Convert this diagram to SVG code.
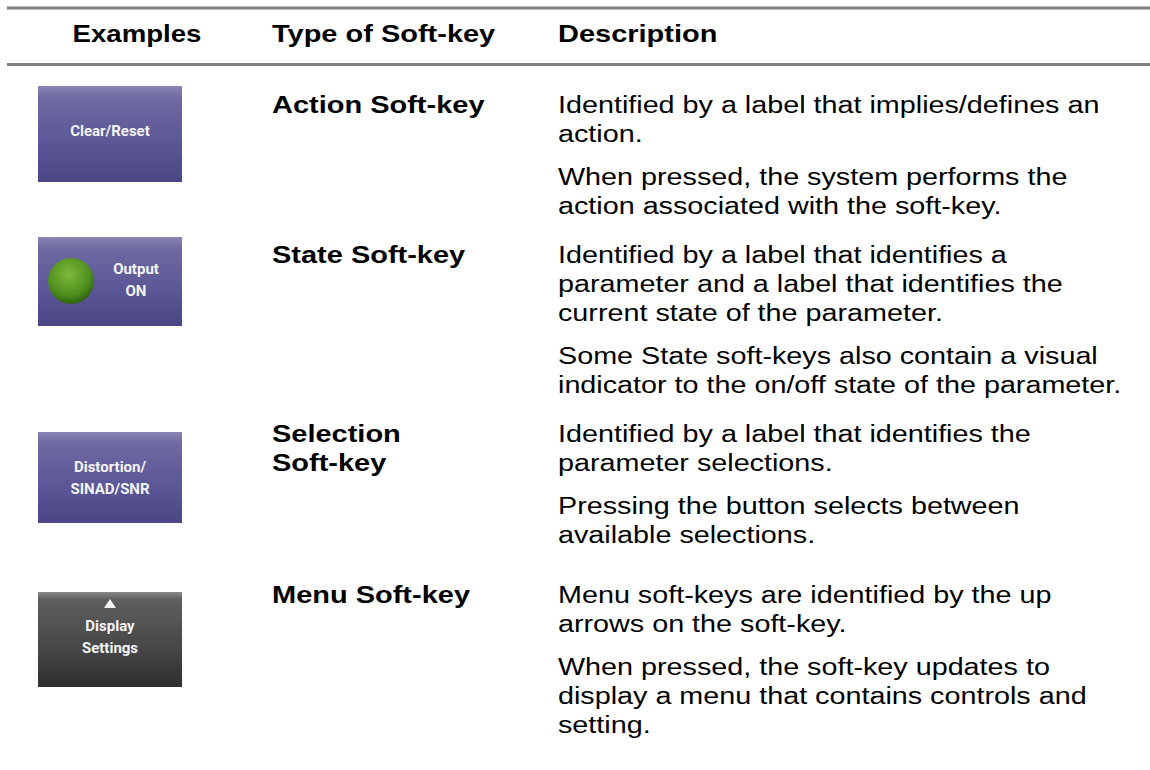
<svg xmlns="http://www.w3.org/2000/svg" width="1150" height="770" viewBox="0 0 1150 770">
<defs>
<linearGradient id="purple" x1="0" y1="0" x2="0" y2="1">
<stop offset="0" stop-color="#8a85b4"/>
<stop offset="0.12" stop-color="#6f6aa2"/>
<stop offset="0.6" stop-color="#5b5696"/>
<stop offset="1" stop-color="#4a4686"/>
</linearGradient>
<linearGradient id="gray" x1="0" y1="0" x2="0" y2="1">
<stop offset="0" stop-color="#8a8a8a"/>
<stop offset="0.08" stop-color="#5e5e5e"/>
<stop offset="0.6" stop-color="#474747"/>
<stop offset="1" stop-color="#2e2e2e"/>
</linearGradient>
<radialGradient id="green" cx="0.45" cy="0.35" r="0.65">
<stop offset="0" stop-color="#7dba3a"/>
<stop offset="0.7" stop-color="#4f8f1f"/>
<stop offset="1" stop-color="#2f6410"/>
</radialGradient>
<style>
.rule{stroke:#808080;stroke-width:3;fill:none}
.hd{font-family:"Liberation Sans",Arial,sans-serif;font-weight:bold;font-size:23px;fill:#000}
.tp{font-family:"Liberation Sans",Arial,sans-serif;font-weight:bold;font-size:23px;fill:#000}
.ds{font-family:"Liberation Sans",Arial,sans-serif;font-size:23px;fill:#000}
.bt{font-family:Roboto,"Liberation Sans",sans-serif;font-weight:bold;font-size:15px;fill:#f4f4f8;text-anchor:middle}
</style>
</defs>
<g id="rules">
<line class="rule" x1="7" y1="8" x2="1150" y2="8"/>
<line class="rule" x1="7" y1="64.5" x2="1150" y2="64.5"/>
</g>
<g id="header">
<text class="hd" transform="translate(137 0) scale(1.2 1)" x="0" y="42" text-anchor="middle">Examples</text>
<text class="hd" transform="translate(272 0) scale(1.26 1)" x="0" y="42">Type of Soft-key</text>
<text class="hd" transform="translate(558 0) scale(1.26 1)" x="0" y="42">Description</text>
</g>
<g id="row-action">
<g id="btn-clear">
<rect x="38" y="86" width="144" height="96" fill="url(#purple)"/>
<text class="bt" x="110" y="136">Clear/Reset</text>
</g>
<g transform="translate(272 0) scale(1.26 1)">
<text class="tp" x="0" y="113">Action Soft-key</text>
</g>
<g transform="translate(558 0) scale(1.25 1)">
<text class="ds" x="0" y="113">Identified by a label that implies/defines an</text>
<text class="ds" x="0" y="142">action.</text>
<text class="ds" x="0" y="185">When pressed, the system performs the</text>
<text class="ds" x="0" y="214">action associated with the soft-key.</text>
</g>
</g>
<g id="row-state">
<g id="btn-output">
<rect x="38" y="237" width="144" height="89" fill="url(#purple)"/>
<circle cx="71" cy="281" r="23" fill="url(#green)"/>
<text class="bt" x="136" y="274">Output</text>
<text class="bt" x="136" y="296">ON</text>
</g>
<g transform="translate(272 0) scale(1.26 1)">
<text class="tp" x="0" y="263">State Soft-key</text>
</g>
<g transform="translate(558 0) scale(1.25 1)">
<text class="ds" x="0" y="263">Identified by a label that identifies a</text>
<text class="ds" x="0" y="292">parameter and a label that identifies the</text>
<text class="ds" x="0" y="321">current state of the parameter.</text>
<text class="ds" x="0" y="364">Some State soft-keys also contain a visual</text>
<text class="ds" x="0" y="393">indicator to the on/off state of the parameter.</text>
</g>
</g>
<g id="row-selection">
<g id="btn-distortion">
<rect x="38" y="432" width="144" height="91" fill="url(#purple)"/>
<text class="bt" x="110" y="472">Distortion/</text>
<text class="bt" x="110" y="494">SINAD/SNR</text>
</g>
<g transform="translate(272 0) scale(1.26 1)">
<text class="tp" x="0" y="442">Selection</text>
<text class="tp" x="0" y="471">Soft-key</text>
</g>
<g transform="translate(558 0) scale(1.25 1)">
<text class="ds" x="0" y="442">Identified by a label that identifies the</text>
<text class="ds" x="0" y="471">parameter selections.</text>
<text class="ds" x="0" y="514">Pressing the button selects between</text>
<text class="ds" x="0" y="543">available selections.</text>
</g>
</g>
<g id="row-menu">
<g id="btn-display">
<rect x="38" y="592" width="144" height="95" fill="url(#gray)"/>
<polygon points="110,599 116,608 104,608" fill="#f4f4f4"/>
<text class="bt" x="110" y="631">Display</text>
<text class="bt" x="110" y="653">Settings</text>
</g>
<g transform="translate(272 0) scale(1.26 1)">
<text class="tp" x="0" y="603">Menu Soft-key</text>
</g>
<g transform="translate(558 0) scale(1.25 1)">
<text class="ds" x="0" y="603">Menu soft-keys are identified by the up</text>
<text class="ds" x="0" y="632">arrows on the soft-key.</text>
<text class="ds" x="0" y="675">When pressed, the soft-key updates to</text>
<text class="ds" x="0" y="704">display a menu that contains controls and</text>
<text class="ds" x="0" y="733">setting.</text>
</g>
</g>
</svg>
